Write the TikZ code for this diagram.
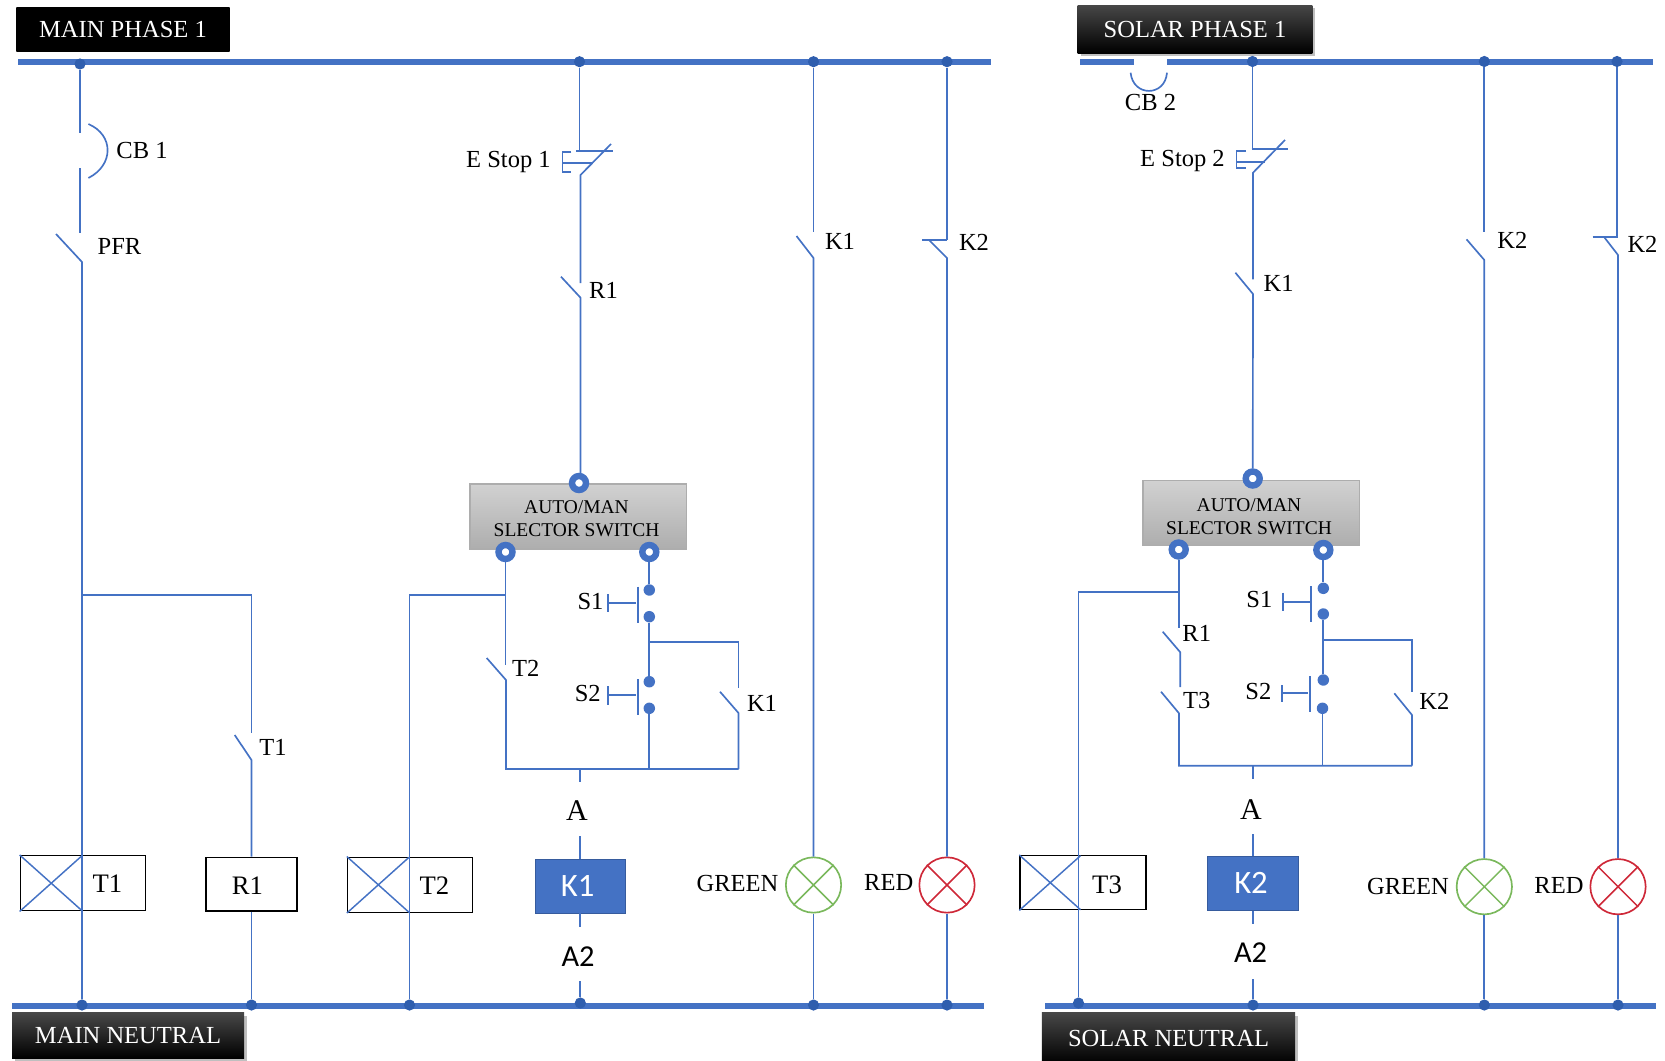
\documentclass[tikz,border=0pt]{standalone}
\usepackage{amssymb, mathtools, amsmath, amsthm}
\usepackage{fontspec}
\setmainfont{Liberation Serif}
\newfontfamily\calfont{Carlito}
\usepackage{tikz}
\usetikzlibrary{shadows}
\definecolor{wireblue}{RGB}{68,114,196}
\definecolor{dotblue}{RGB}{47,94,174}
\definecolor{lampgreen}{RGB}{122,184,92}
\definecolor{lampred}{RGB}{206,40,56}
\tikzset{
  wire/.style={color=wireblue,line width=1.25pt},
  bus/.style={color=wireblue,line width=4.4pt},
  busdot/.style={circle,fill=dotblue,inner sep=0pt,minimum size=8.4pt},
  pushdot/.style={circle,fill=wireblue,inner sep=0pt,minimum size=8.6pt},
  term/.style={circle,draw=wireblue,fill=white,line width=4.8pt,inner sep=0pt,minimum size=10.5pt},
  lbl/.style={inner sep=0.75pt,font=\fontsize{18.4}{21}\selectfont},
  lblcoil/.style={inner sep=0.75pt,font=\fontsize{20}{23}\selectfont},
  lblpin/.style={inner sep=0.75pt,font=\fontsize{22.5}{26}\selectfont},
  lblsans/.style={inner sep=0.75pt,font=\calfont\fontsize{22.8}{26}\selectfont},
  tag/.style={inner sep=0pt,text=white,top color=black!72,middle color=black,bottom color=black,font=\fontsize{18.4}{21}\selectfont},
  selbox/.style={draw=black!32,line width=0.9pt,top color=black!18,bottom color=black!32,inner sep=0pt,minimum width=162.5pt,minimum height=48.75pt},
  seltext/.style={inner sep=0.75pt,align=center,font=\fontsize{14.6}{17}\selectfont},
  coil/.style={draw=black,line width=1.1pt,inner sep=0pt},
  relay/.style={draw=wireblue!80!black,fill=wireblue,text=white,inner sep=0pt,minimum width=68pt,minimum height=40.5pt,font=\calfont\fontsize{24.5}{28}\selectfont},
  lamp/.style={circle,line width=1.25pt,inner sep=0pt,minimum size=41.5pt}
}
\begin{document}
\begin{tikzpicture}[x=0.75pt,y=0.75pt,yscale=-1,xscale=1]
\useasboundingbox (0,0) rectangle (1665,1060);

%Bus ends
\coordinate (busMa) at (18,62); \coordinate (busMb) at (991,62);
\coordinate (busSa) at (1080,62); \coordinate (busSb) at (1134,62);
\coordinate (busSc) at (1167,62); \coordinate (busSd) at (1653,62);
\coordinate (neuMa) at (12,1006); \coordinate (neuMb) at (984,1006);
\coordinate (neuSa) at (1045,1006); \coordinate (neuSb) at (1656,1006);
%Straight Lines
\draw [bus] (busMa) -- (busMb) ;
\draw [bus] (busSa) -- (busSb) ;
\draw [bus] (busSc) -- (busSd) ;
\draw [bus] (neuMa) -- (neuMb) ;
\draw [bus] (neuSa) -- (neuSb) ;

% Tag Nodes
\draw (123,29) node [tag,top color=black,minimum width=160pt,minimum height=33pt] (tagMainPhase) {MAIN PHASE 1};
\draw (1195,29) node [tag,drop shadow,minimum width=176pt,minimum height=36pt] (tagSolarPhase) {SOLAR PHASE 1};
\draw (128,1035.5) node [tag,drop shadow,minimum width=174pt,minimum height=34pt] (tagMainNeutral) {MAIN NEUTRAL};
\draw (1168.5,1038) node [tag,drop shadow,minimum width=190pt,minimum height=38pt] (tagSolarNeutral) {SOLAR NEUTRAL};

% Bus dots
\draw (80,64) node [busdot] (dotM1) {};
\draw (579.5,61.7) node [busdot] (dotM2) {};
\draw (813.5,61.7) node [busdot] (dotM3) {};
\draw (947,61.7) node [busdot] (dotM4) {};
\draw (1252.5,61.5) node [busdot] (dotS1) {};
\draw (1484.3,61.5) node [busdot] (dotS2) {};
\draw (1617,61.5) node [busdot] (dotS3) {};
\draw (82,1005) node [busdot] (dotN1) {};
\draw (251.5,1005) node [busdot] (dotN2) {};
\draw (409.5,1005) node [busdot] (dotN3) {};
\draw (580.3,1003) node [busdot] (dotN4) {};
\draw (813.5,1005) node [busdot] (dotN5) {};
\draw (947,1005) node [busdot] (dotN6) {};
\draw (1078.5,1003) node [busdot] (dotN7) {};
\draw (1253,1005) node [busdot] (dotN8) {};
\draw (1484.3,1005) node [busdot] (dotN9) {};
\draw (1618,1005) node [busdot] (dotN10) {};

% Selector boxes
\draw (578.3,516.5) node [selbox] (selM) {};
\draw (1251.3,513.2) node [selbox] (selS) {};
\draw (576.5,519) node [seltext] (selMtext) {AUTO/MAN\\SLECTOR SWITCH};
\draw (1249,516.5) node [seltext] (selStext) {AUTO/MAN\\SLECTOR SWITCH};
\draw (579,483) node [term] (termMa) {};
\draw (505.5,552) node [term] (termMb) {};
\draw (649.3,552) node [term] (termMc) {};
\draw (1252.7,478.5) node [term] (termSa) {};
\draw (1178.7,549.5) node [term] (termSb) {};
\draw (1323.3,550) node [term] (termSc) {};

% Push buttons
\draw (649.3,590) node [pushdot] (s1Ma) {};
\draw (649.3,616.7) node [pushdot] (s1Mb) {};
\draw (649.3,681.7) node [pushdot] (s2Ma) {};
\draw (649.3,708.3) node [pushdot] (s2Mb) {};
\draw (1323.3,588.3) node [pushdot] (s1Sa) {};
\draw (1323.3,614) node [pushdot] (s1Sb) {};
\draw (1323.3,680) node [pushdot] (s2Sa) {};
\draw (1322.5,708.3) node [pushdot] (s2Sb) {};

% Coil Nodes
\draw (82.9,883.2) node [coil,minimum width=93.75pt,minimum height=41.25pt] (coilT1) {};
\draw (251.5,884.2) node [coil,minimum width=68.4pt,minimum height=40.3pt] (coilR1) {};
\draw (410.1,884.8) node [coil,minimum width=93.75pt,minimum height=41.25pt] (coilT2) {};
\draw (1083,882.7) node [coil,minimum width=94.5pt,minimum height=40.5pt] (coilT3) {};
\draw (580.3,886) node [relay] (relayK1) {K1\kern4pt};
\draw (1253,883.3) node [relay] (relayK2) {K2\kern3pt};

% Lamp Nodes
\draw (813.5,885) node [lamp,draw=lampgreen] (lampGm) {};
\draw (947,885) node [lamp,draw=lampred] (lampRm) {};
\draw (1484.3,886.7) node [lamp,draw=lampgreen] (lampGs) {};
\draw (1618,886.7) node [lamp,draw=lampred] (lampRs) {};
\draw [lampgreen,line width=1.1pt] (lampGm.north west) -- (lampGm.south east) (lampGm.north east) -- (lampGm.south west) ;
\draw [lampred,line width=1.1pt] (lampRm.north west) -- (lampRm.south east) (lampRm.north east) -- (lampRm.south west) ;
\draw [lampgreen,line width=1.1pt] (lampGs.north west) -- (lampGs.south east) (lampGs.north east) -- (lampGs.south west) ;
\draw [lampred,line width=1.1pt] (lampRs.north west) -- (lampRs.south east) (lampRs.north east) -- (lampRs.south west) ;

%Main rail 1
\coordinate (cbMa) at (80,133); \coordinate (cbMb) at (80,168);
\coordinate (pfrA) at (80,233); \coordinate (pfrB) at (82,262);
\coordinate (jctT1) at (82,594.7); \coordinate (t1Top) at (251.5,594.7);
\coordinate (t1A) at (251.5,733); \coordinate (t1B) at (251.5,760);
\draw [wire] (dotM1) -- (cbMa) ;
\draw [wire] (cbMb) -- (pfrA) ;
\draw [wire] (56,234) -- (pfrB) -- (dotN1) ;
\draw [wire] (jctT1) -- (t1Top) -- (t1A) ;
\draw [wire] (234.7,735) -- (t1B) -- (coilR1) ;
\draw [wire] (coilR1) -- (dotN2) ;
%Shape: Arc
\draw [wire] (88.4,124) .. controls (114,135) and (114,165) .. (88.4,178) ;
\draw [wireblue,line width=1.1pt] (coilT1.north west) -- (82,910.7) (coilT1.south west) -- (82,855.7) ;
\draw [wireblue,line width=1.1pt] (coilT2.north west) -- (409,912.3) (coilT2.south west) -- (409,857.3) ;

%Main rail 2
\coordinate (eMa) at (579.5,150.7); \coordinate (eMb) at (580.5,175);
\coordinate (r1Ma) at (580.5,283); \coordinate (r1Mb) at (580.5,297.7);
\coordinate (r1Mc) at (580.5,474);
\draw [wire] (dotM2) -- (eMa) ;
\draw [wire] (576,150.7) -- (612.5,150.7) ;
\draw [wire] (611,144) -- (eMb) -- (r1Ma) ;
\draw [wire] (571.4,152) -- (562.5,152) -- (562.5,172) -- (571.4,172) ;
\draw [wire] (562.5,163.3) -- (591.5,163.3) ;
\draw [wire] (561,276.7) -- (r1Mb) -- (r1Mc) ;

%Main selector left branch
\coordinate (jctT2a) at (505.5,594.7); \coordinate (jctT2b) at (409.5,594.7);
\coordinate (t2Ma) at (505.5,665); \coordinate (t2Mb) at (506,680);
\coordinate (botMa) at (506,769); \coordinate (botMb) at (738.5,769);
\draw [wire] (termMb) -- (jctT2a) -- (t2Ma) ;
\draw [wire] (jctT2a) -- (jctT2b) -- (dotN3) ;
\draw [wire] (486.7,658) -- (t2Mb) -- (botMa) -- (botMb) ;

%Main selector right branch
\coordinate (jctK1) at (649.3,642); \coordinate (k1Top) at (738.5,642);
\coordinate (k1Ma) at (738.5,688); \coordinate (k1Mb) at (738.5,713);
\coordinate (s2Bot) at (649.3,769);
\draw [wire] (termMc) -- (s1Ma) ;
\draw [wire] (s1Mb) -- (s2Ma) ;
\draw [wire] (s2Mb) -- (s2Bot) ;
\draw [wire] (jctK1) -- (k1Top) -- (k1Ma) ;
\draw [wire] (720,691.7) -- (k1Mb) -- (botMb) ;
\draw [wire] (638.3,586.7) -- (638.3,623) (608,603.3) -- (636,603.3) (608,594) -- (608,612) ;
\draw [wire] (638.3,679) -- (638.3,715) (608,695) -- (636,695) (608,686) -- (608,705) ;

%Main coil leads
\coordinate (tailMa) at (580.3,769); \coordinate (tailMb) at (580.3,782);
\coordinate (leadMa) at (580.3,836); \coordinate (leadMb) at (580.3,927);
\coordinate (leadMc) at (580.3,981);
\draw [wire] (tailMa) -- (tailMb) ;
\draw [wire] (leadMa) -- (relayK1) ;
\draw [wire] (relayK1) -- (leadMb) ;
\draw [wire] (leadMc) -- (dotN4) ;

%Main rails 3 and 4
\coordinate (k1La) at (813.5,232); \coordinate (k1Lb) at (813.5,258);
\coordinate (k2La) at (947,240); \coordinate (k2Lb) at (947,258);
\draw [wire] (dotM3) -- (k1La) ;
\draw [wire] (796.5,236) -- (k1Lb) -- (lampGm) ;
\draw [wire] (lampGm) -- (dotN5) ;
\draw [wire] (dotM4) -- (k2La) ;
\draw [wire] (922,240) -- (k2La) ;
\draw [wire] (929,240) -- (k2Lb) -- (lampRm) ;
\draw [wire] (lampRm) -- (dotN6) ;

%Solar rail 1
\coordinate (eSa) at (1252.5,149); \coordinate (eSb) at (1253,172.7);
\coordinate (k1Sa) at (1253,279.3); \coordinate (k1Sb) at (1253,294);
\draw [wire] (dotS1) -- (eSa) ;
\draw [wire] (1251.5,149) -- (1287.5,149) ;
\draw [wire] (1285,140) -- (eSb) -- (k1Sa) ;
\draw [wire] (1246,150.7) -- (1236.6,150.7) -- (1236.6,168.3) -- (1246,168.3) ;
\draw [wire] (1236.6,161.7) -- (1265,161.7) ;
\draw [wire] (1235.4,272.7) -- (k1Sb) -- (termSa) ;
%Shape: Arc
\draw [wire] (1130.6,72.7) .. controls (1133,97) and (1165,97) .. (1167,72.7) ;

%Solar selector left branch
\coordinate (jctR1a) at (1178.7,592.3); \coordinate (jctR1b) at (1078.5,592.3);
\coordinate (r1Sa) at (1178.7,627.7); \coordinate (r1Sb) at (1180.3,652.3);
\coordinate (t3Sa) at (1180.3,687); \coordinate (t3Sb) at (1179,713.3);
\coordinate (botSa) at (1179,765.7); \coordinate (botSb) at (1412,765.7);
\draw [wire] (termSb) -- (jctR1a) -- (r1Sa) ;
\draw [wire] (jctR1a) -- (jctR1b) -- (dotN7) ;
\draw [wire] (1162.7,631.7) -- (r1Sb) -- (t3Sa) ;
\draw [wire] (1161,691.7) -- (t3Sb) -- (botSa) -- (botSb) ;
\draw [wireblue,line width=1.1pt] (coilT3.north west) -- (1080.5,909.7) (coilT3.south west) -- (1080.5,855.7) ;

%Solar selector right branch
\coordinate (jctK2) at (1323.3,640.3); \coordinate (k2Top) at (1412,640.3);
\coordinate (k2Sa) at (1412,691.7); \coordinate (k2Sb) at (1412,715);
\coordinate (s2Top) at (1322.5,765.7);
\draw [wire] (termSc) -- (s1Sa) ;
\draw [wire] (s1Sb) -- (s2Sa) ;
\draw [wire] (s2Sb) -- (s2Top) ;
\draw [wire] (jctK2) -- (k2Top) -- (k2Sa) ;
\draw [wire] (1394.3,693.3) -- (k2Sb) -- (botSb) ;
\draw [wire] (1311.3,586) -- (1311.3,621.7) (1283,601.7) -- (1310,601.7) (1283,592.7) -- (1283,610.7) ;
\draw [wire] (1309.7,676) -- (1309.7,711.7) (1281.7,693.3) -- (1308,693.3) (1281.7,685) -- (1281.7,702.3) ;

%Solar coil leads
\coordinate (tailSa) at (1253,765.7); \coordinate (tailSb) at (1253,779);
\coordinate (leadSa) at (1253,834); \coordinate (leadSb) at (1253,924);
\coordinate (leadSc) at (1253,979);
\draw [wire] (tailSa) -- (tailSb) ;
\draw [wire] (leadSa) -- (relayK2) ;
\draw [wire] (relayK2) -- (leadSb) ;
\draw [wire] (leadSc) -- (dotN8) ;

%Solar rails 2 and 3
\coordinate (k2Ta) at (1484.3,231.7); \coordinate (k2Tb) at (1484.3,260);
\coordinate (k2Ua) at (1617,237.3); \coordinate (k2Ub) at (1618,255);
\draw [wire] (dotS2) -- (k2Ta) ;
\draw [wire] (1466.5,239.3) -- (k2Tb) -- (lampGs) ;
\draw [wire] (lampGs) -- (dotN9) ;
\draw [wire] (dotS3) -- (k2Ua) ;
\draw [wire] (1592.5,237.3) -- (1618.3,237.3) ;
\draw [wire] (1604.3,237.3) -- (k2Ub) -- (lampRs) ;
\draw [wire] (lampRs) -- (dotN10) ;

% Text Node
\draw (142,150) node [lbl] (lblCB1) {CB 1};
\draw (119.5,246) node [lbl] (lblPFR) {PFR};
\draw (552,161.5) node [lbl,anchor=east] (lblEstop1) {E Stop 1};
\draw (603.5,290) node [lbl] (lblR1a) {R1};
\draw (525.7,668) node [lbl] (lblT2a) {T2};
\draw (590.5,601) node [lbl] (lblS1a) {S1};
\draw (587.7,693.3) node [lbl] (lblS2a) {S2};
\draw (762,703.5) node [lbl] (lblK1a) {K1};
\draw (273,747.6) node [lbl] (lblT1a) {T1};
\draw (840,241) node [lbl] (lblK1b) {K1};
\draw (974,242) node [lbl] (lblK2a) {K2};
\draw (107.5,884) node [lblcoil] (lblT1b) {T1};
\draw (247.4,885.5) node [lblcoil] (lblR1b) {R1};
\draw (434.5,886) node [lblcoil] (lblT2b) {T2};
\draw (737.5,883) node [lbl] (lblGreenM) {GREEN};
\draw (888.7,882) node [lbl] (lblRedM) {RED};
\draw (577,811) node [lblpin] (lblAm) {A};
\draw (578,957) node [lblsans] (lblA2m) {A2};
\draw (1150.5,102.7) node [lbl] (lblCB2) {CB 2};
\draw (1226,160.5) node [lbl,anchor=east] (lblEstop2) {E Stop 2};
\draw (1278.6,283) node [lbl] (lblK1c) {K1};
\draw (1512.3,240.7) node [lbl] (lblK2b) {K2};
\draw (1642.5,244.3) node [lbl] (lblK2c) {K2};
\draw (1196.7,633.3) node [lbl] (lblR1c) {R1};
\draw (1196.7,700) node [lbl] (lblT3a) {T3};
\draw (1259.3,599.3) node [lbl] (lblS1b) {S1};
\draw (1258.3,691.7) node [lbl] (lblS2b) {S2};
\draw (1434.3,701.7) node [lbl] (lblK2d) {K2};
\draw (1107,884.3) node [lblcoil] (lblT3b) {T3};
\draw (1408,886.7) node [lbl] (lblGreenS) {GREEN};
\draw (1559,885.7) node [lbl] (lblRedS) {RED};
\draw (1251,810) node [lblpin] (lblAs) {A};
\draw (1250.5,953) node [lblsans] (lblA2s) {A2};

\end{tikzpicture}
\end{document}
